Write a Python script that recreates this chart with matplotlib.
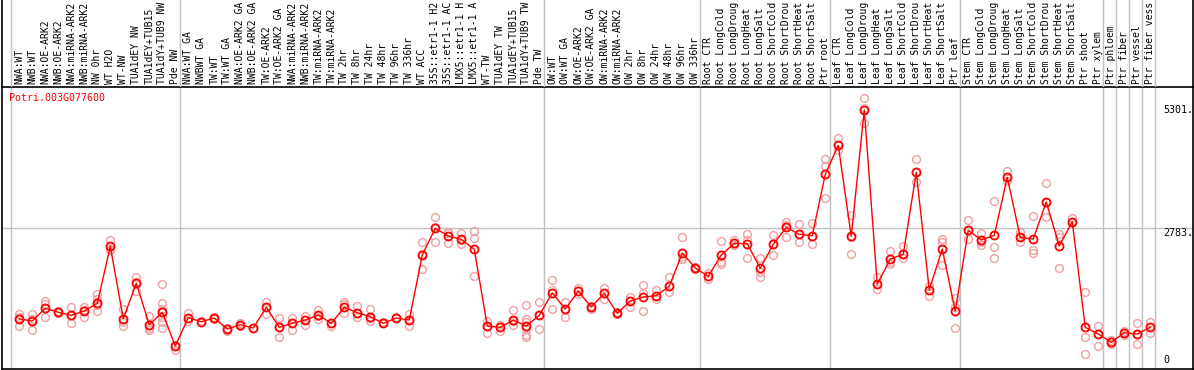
import matplotlib
matplotlib.use('Agg')
import matplotlib.pyplot as plt

# sample names, one column each
samples = [
    'NWA:WT', 'NWB:WT', 'NWA:OE-ARK2', 'NWB:OE-ARK2', 'NWA:miRNA-ARK2', 'NWB:miRNA-ARK2',
    'NW 0hr', 'WT H2O', 'WT-NW', 'TUA1dEY NW', 'TUA1dEY+TUB15 NW', 'TUA1dY+TUB9 NW', 'Pde NW',
    'NWA:WT GA', 'NWBWT GA', 'TW:WT', 'TW:WT GA', 'NWA:OE-ARK2 GA', 'NWB:OE-ARK2 GA',
    'TW:OE-ARK2', 'TW:OE-ARK2 GA', 'NWA:miRNA-ARK2', 'NWB:miRNA-ARK2', 'TW:miRNA-ARK2',
    'TW:miRNA-ARK2', 'TW 2hr', 'TW 8hr', 'TW 24hr', 'TW 48hr', 'TW 96hr', 'TW 336hr',
    'WT ACC', '35S::etr1-1 H2O', '35S::etr1-1 ACC', 'LMX5::etr1-1 H2O', 'LMX5::etr1-1 ACC',
    'WT-TW', 'TUA1dEY TW', 'TUA1dEY+TUB15 TW', 'TUA1dY+TUB9 TW', 'Pde TW',
    'OW:WT', 'OW:WT GA', 'OW:OE-ARK2', 'OW:OE-ARK2 GA', 'OW:miRNA-ARK2', 'OW:miRNA-ARK2',
    'OW 2hr', 'OW 8hr', 'OW 24hr', 'OW 48hr', 'OW 96hr', 'OW 336hr',
    'Root CTR', 'Root LongCold', 'Root LongDrought', 'Root LongHeat', 'Root LongSalt',
    'Root ShortCold', 'Root ShortDrought', 'Root ShortHeat', 'Root ShortSalt', 'Ptr root',
    'Leaf CTR', 'Leaf LongCold', 'Leaf LongDrought', 'Leaf LongHeat', 'Leaf LongSalt',
    'Leaf ShortCold', 'Leaf ShortDrought', 'Leaf ShortHeat', 'Leaf ShortSalt', 'Ptr leaf',
    'Stem CTR', 'Stem LongCold', 'Stem LongDrought', 'Stem LongHeat', 'Stem LongSalt',
    'Stem ShortCold', 'Stem ShortDrought', 'Stem ShortHeat', 'Stem ShortSalt', 'Ptr shoot',
    'Ptr xylem', 'Ptr phloem', 'Ptr fiber', 'Ptr vessel', 'Ptr fiber vessel',
]

# mean expression per sample
means = [
    937, 896, 1154, 1073, 1012, 1099, 1256, 2417, 943, 1663, 821, 1073, 387,
    963, 882, 957, 733, 821, 753, 1175, 767, 849, 916, 1018, 849, 1175, 1065, 983,
    849, 957, 916, 2240, 2783, 2626, 2559, 2355, 794, 767, 916, 794, 1012,
    1466, 1140, 1500, 1181, 1459, 1052, 1303, 1384, 1411, 1602, 2280, 1975,
    1806, 2240, 2477, 2470, 1968, 2457, 2803, 2661, 2633, 3882,
    4473, 2620, 5192, 1643, 2158, 2254, 3923, 1527, 2362, 1099,
    2742, 2545, 2640, 3821, 2600, 2565, 3319, 2423, 2918, 767,
    631, 462, 658, 631, 767,
]

# replicate values per sample
reps = [
    [1030, 985, 795], [1030, 945, 715], [1300, 1250, 970], [1090, 1060], [1180, 1010, 850],
    [1190, 1120, 985], [1440, 1350, 1230, 1100], [2545, 2365, 2340], [1146, 880, 800],
    [1800, 1680, 1510], [1004, 760, 713], [1640, 1256, 1150, 980, 880, 750], [400, 305],
    [1050, 900], [900, 870], [970, 940], [760, 700], [850, 800], [760],
    [1290, 1180, 1040], [950, 770, 570], [965, 860, 713], [1000, 920, 815], [1120, 1000, 940],
    [860, 800], [1290, 1240, 1065], [1200, 1050, 985], [1140, 950, 900], [870],
    [970], [1030, 920, 795], [2510, 2260, 1950], [3013, 2800, 2511], [2714, 2690, 2477],
    [2694, 2540, 2457], [2728, 2592, 1812], [896, 794, 645], [820, 700], [1120, 900, 814],
    [1215, 936, 880, 740, 611, 564], [1283, 1012, 733],
    [1731, 1527, 1140], [1277, 1140, 983], [1570, 1440], [1140, 1200], [1574, 1460, 1344],
    [1080, 1030], [1391, 1303, 1187], [1622, 1459, 1099], [1527, 1400, 1337],
    [1792, 1600, 1480], [2600, 2200, 2158], [2000, 1950],
    [1880, 1760], [2525, 2103, 2060], [2545, 2440], [2667, 2540, 2185], [2185, 1900, 1785],
    [2647, 2457, 2240], [2918, 2850, 2612], [2864, 2661, 2498], [2897, 2633, 2464],
    [4194, 4052, 3394],
    [4616, 4473, 4377], [3054, 2600, 2254], [5430, 5230, 4921], [1792, 1643, 1547],
    [2327, 2100, 2050], [2423, 2254, 2172], [4194, 3923, 3732], [1600, 1405],
    [2565, 2500, 2036], [1370, 1180, 760],
    [2952, 2742, 2565], [2694, 2500, 2443], [3339, 2409, 2172], [3950, 3821, 3746],
    [2714, 2600, 2511], [3034, 2341, 2274], [3706, 3319, 3020], [2667, 2600, 1982],
    [2999, 2918], [1480, 577, 218],
    [800, 631, 387], [500, 430], [700, 620], [849, 631, 421], [882, 767, 658],
]

# group boundaries (after these sample numbers)
group_ends = [0, 13, 41, 53, 63, 73, 84, 85, 86, 87, 88]
ytick_vals = [5301, 2783, 0]
ytick_text = ['5301.', '2783.', '0']
gene = 'Potri.003G077600'

W, H = 1194, 370
fig = plt.figure(figsize=(W / 100, H / 100), dpi=100)
mono = 'DejaVu Sans Mono'
fs = 7.2
grid_c = '#C0C0C0'
maxchars = 14   # header only has room for this many characters

xlim = (-0.369, 91.25)

# plot area
ax = fig.add_axes([1.5 / W, 1.5 / H, 1191 / W, 282 / H])
ax.set_xlim(*xlim)
ax.set_ylim(-71, 5670)
ax.set_xticks([])
ax.set_yticks([])
for s in ax.spines.values():
    s.set_linewidth(1.2)
    s.set_color('black')

# header area with sample names
hx = fig.add_axes([1.5 / W, 283.5 / H, 1191 / W, 86.5 / H])
hx.set_xlim(*xlim)
hx.set_ylim(86.5, 0)
hx.set_xticks([])
hx.set_yticks([])
hx.patch.set_alpha(0)
hx.spines['top'].set_visible(False)
hx.spines['bottom'].set_visible(False)
hx.spines['left'].set_linewidth(1.2)
hx.spines['right'].set_linewidth(1.2)

for g in group_ends:
    ax.axvline(g + 5 / 13, color=grid_c, lw=1, zorder=0)
    hx.axvline(g + 5 / 13, color=grid_c, lw=1, zorder=0)
ax.axhline(2783, color=grid_c, lw=1, zorder=0)

xs = list(range(1, len(samples) + 1))
for x, lab in zip(xs, samples):
    hx.text(x, 84.5, lab[:maxchars].rstrip(), rotation=90, ha='center', va='bottom',
            family=mono, fontsize=7.0, clip_on=True)

for x, r in zip(xs, reps):
    ax.plot([x] * len(r), r, 'o', mfc='none', mec='#F0A0A0', ms=5.6, mew=1, zorder=2)
ax.plot(xs, means, color='red', lw=1, zorder=3)
ax.plot(xs, means, 'o', mfc='none', mec='red', ms=5.8, mew=1.3, zorder=4)

for v, t in zip(ytick_vals, ytick_text):
    ax.text(88.98, v, t, ha='left', va='top' if v > 0 else 'bottom',
            family=mono, fontsize=fs)

ax.text(0.21, 5538, gene, color='red', ha='left', va='top', family=mono, fontsize=fs)

fig.savefig('out.png', dpi=100)
